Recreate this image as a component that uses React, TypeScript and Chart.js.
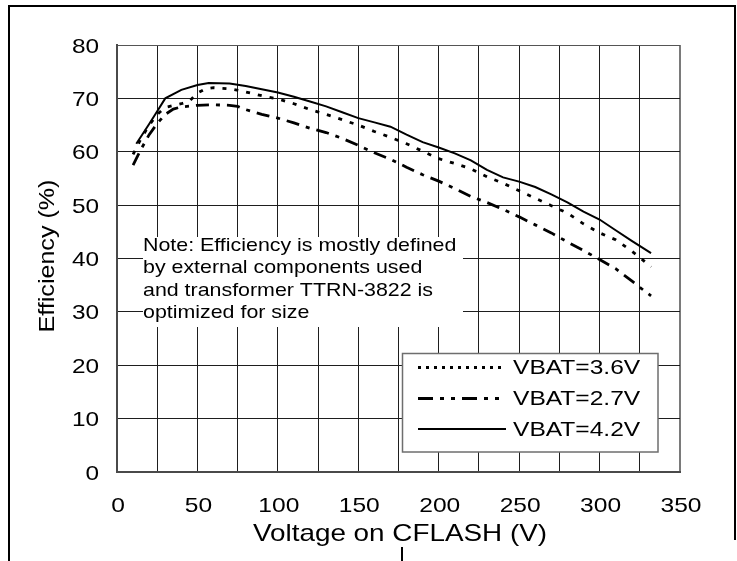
import { useEffect, useRef } from 'react';
import { Chart, registerables } from 'chart.js';

Chart.register(...registerables);

// ---- Data ----
const V_36 = [10, 15, 20, 25, 30, 40, 45, 50, 55, 60, 70, 80, 90, 100, 110, 120, 130, 140, 150, 160, 170, 180, 190, 200, 210, 220, 230, 240, 250, 260, 270, 280, 290, 300, 310, 320, 325, 332];
const EFF_36 = [59.5, 62.5, 65, 67, 68.3, 69, 69.5, 71, 71.8, 72, 71.8, 71.2, 70.5, 69.9, 69, 67.9, 67, 66, 65, 63.8, 62.7, 61.5, 60.1, 58.7, 57.8, 56.8, 55.3, 54.1, 52.7, 51.3, 49.9, 48.5, 46.5, 44.8, 43.5, 41.4, 40.2, 38.4];

const V_27 = [10, 15, 20, 25, 30, 35, 40, 50, 60, 70, 75, 80, 90, 100, 110, 120, 130, 140, 150, 160, 170, 180, 190, 200, 210, 220, 230, 240, 250, 260, 270, 280, 290, 300, 310, 320, 325, 332];
const EFF_27 = [57.5, 60.5, 63.2, 65.3, 67, 68, 68.4, 68.7, 68.8, 68.7, 68.5, 67.9, 67, 66.3, 65.4, 64.4, 63.6, 62.5, 61.2, 59.8, 58.6, 57.1, 55.7, 54.5, 53.1, 51.6, 50.5, 49.2, 47.8, 46.3, 44.8, 43.1, 41.5, 39.8, 38.1, 35.8, 34.6, 33];

const V_42 = [12, 20, 25, 30, 40, 50, 57, 70, 80, 90, 100, 110, 120, 130, 140, 150, 160, 170, 180, 190, 200, 210, 220, 230, 240, 250, 260, 270, 280, 290, 300, 310, 320, 332];
const EFF_42 = [61.5, 65.2, 67.6, 70, 71.6, 72.5, 72.9, 72.8, 72.3, 71.7, 71.1, 70.3, 69.4, 68.5, 67.4, 66.3, 65.5, 64.7, 63.2, 61.8, 60.8, 59.7, 58.4, 56.6, 55.2, 54.4, 53.4, 52, 50.5, 48.8, 47.3, 45.3, 43.3, 41];

const SERIES_LABELS = ['VBAT=3.6V', 'VBAT=2.7V', 'VBAT=4.2V'];
const X_MIN = 0, X_MAX = 350, X_GRID_STEP = 25, X_LABEL_STEP = 50;
const Y_MIN = 0, Y_MAX = 80, Y_STEP = 10;
const X_TITLE = 'Voltage on CFLASH (V)';
const Y_TITLE = 'Efficiency (%)';
const NOTE_LINES = [
  'Note: Efficiency is mostly defined',
  'by external components used',
  'and transformer TTRN-3822 is',
  'optimized for size',
];

const FONT = '"Liberation Sans", Arial, Helvetica, sans-serif';

function toPoints(xs: number[], ys: number[]) {
  return xs.map((x, i) => ({ x, y: ys[i] }));
}

function stretchText(
  ctx: CanvasRenderingContext2D,
  text: string,
  x: number,
  y: number,
  size: number,
  sx: number,
  align: CanvasTextAlign,
  rotate = 0
) {
  ctx.save();
  ctx.font = `${size}px ${FONT}`;
  ctx.fillStyle = '#000';
  ctx.textBaseline = 'alphabetic';
  ctx.textAlign = align;
  ctx.translate(x, y);
  if (rotate) ctx.rotate(rotate);
  ctx.scale(sx, 1);
  ctx.fillText(text, 0, 0);
  ctx.restore();
}

const decorPlugin = {
  id: 'decor',
  beforeDatasetsDraw(chart: any) {
    const ctx: CanvasRenderingContext2D = chart.ctx;
    // note box (white background hides grid)
    ctx.save();
    ctx.fillStyle = '#fff';
    ctx.fillRect(143, 237, 320, 90);
    ctx.restore();
    NOTE_LINES.forEach((line, i) => {
      stretchText(ctx, line, 143, 251 + i * 22.4, 18.6, 1.15, 'left');
    });
  },
  afterDatasetsDraw(chart: any) {
    const ctx: CanvasRenderingContext2D = chart.ctx;
    // legend box
    ctx.save();
    ctx.fillStyle = '#fff';
    ctx.fillRect(402, 353, 256, 99);
    ctx.strokeStyle = '#6e6e6e';
    ctx.lineWidth = 1.5;
    ctx.strokeRect(402.5, 353.5, 255.5, 98.5);
    ctx.restore();
    const baselines = [374, 405, 435.5];
    chart.data.datasets.forEach((ds: any, i: number) => {
      const ly = baselines[i] - 6.5;
      ctx.save();
      ctx.strokeStyle = '#000';
      ctx.lineWidth = ds.legendWidth;
      ctx.setLineDash(ds.legendDash || []);
      ctx.beginPath();
      ctx.moveTo(418, ly);
      ctx.lineTo(506, ly);
      ctx.stroke();
      ctx.restore();
      stretchText(ctx, ds.label, 513, baselines[i], 21, 1.17, 'left');
    });
  },
  afterDraw(chart: any) {
    const ctx: CanvasRenderingContext2D = chart.ctx;
    const xs = chart.scales.x;
    const ys = chart.scales.y;
    // y tick labels
    ys.ticks.forEach((t: any) => {
      const py = ys.getPixelForValue(t.value);
      stretchText(ctx, String(t.value), 99, py + 7.5, 21, 1.16, 'right');
    });
    // x tick labels
    xs.ticks.forEach((t: any) => {
      if (t.value % X_LABEL_STEP !== 0) return;
      const px = xs.getPixelForValue(t.value);
      stretchText(ctx, String(t.value), px + 1, 511.5, 21, 1.17, 'center');
    });
    // axis titles
    stretchText(ctx, X_TITLE, 400, 541, 24, 1.16, 'center');
    stretchText(ctx, Y_TITLE, 54, 256, 22, 1.14, 'center', -Math.PI / 2);
    // outer frame
    ctx.save();
    ctx.strokeStyle = '#000';
    ctx.lineWidth = 2;
    ctx.beginPath();
    ctx.moveTo(9, 561);
    ctx.lineTo(9, 6);
    ctx.lineTo(735, 6);
    ctx.lineTo(735, 540);
    ctx.moveTo(402, 547);
    ctx.lineTo(402, 561);
    ctx.stroke();
    ctx.restore();
  },
};

export default function App() {
  const canvasRef = useRef<HTMLCanvasElement | null>(null);

  useEffect(() => {
    if (!canvasRef.current) return;
    const chart = new Chart(canvasRef.current, {
      type: 'line',
      data: {
        datasets: [
          {
            label: SERIES_LABELS[0],
            data: toPoints(V_36, EFF_36),
            borderColor: '#000',
            borderWidth: 2.8,
            borderDash: [4, 8],
            legendDash: [3, 5],
            legendWidth: 3,
            pointRadius: 0,
            tension: 0,
          } as any,
          {
            label: SERIES_LABELS[1],
            data: toPoints(V_27, EFF_27),
            borderColor: '#000',
            borderWidth: 2.8,
            borderDash: [13, 7, 4, 7],
            legendDash: [15, 7, 4, 7, 4, 7],
            legendWidth: 3,
            pointRadius: 0,
            tension: 0,
          } as any,
          {
            label: SERIES_LABELS[2],
            data: toPoints(V_42, EFF_42),
            borderColor: '#000',
            borderWidth: 2,
            borderDash: [],
            legendDash: [],
            legendWidth: 2,
            pointRadius: 0,
            tension: 0,
          } as any,
        ],
      },
      options: {
        animation: false,
        responsive: true,
        maintainAspectRatio: false,
        devicePixelRatio: 1,
        layout: { padding: { left: 117, top: 45, right: 57, bottom: 89 } },
        plugins: {
          legend: { display: false },
          tooltip: { enabled: false },
          title: { display: false },
        },
        scales: {
          x: {
            type: 'linear',
            min: X_MIN,
            max: X_MAX,
            ticks: { stepSize: X_GRID_STEP, display: false },
            grid: {
              drawTicks: false,
              color: (c: any) => (c.tick && c.tick.value === X_MAX ? '#7a7a7a' : '#1e1e1e'),
              lineWidth: (c: any) => (c.tick && c.tick.value === X_MAX ? 2 : 1),
            },
            border: { display: true, color: '#4a4a4a', width: 2 },
          },
          y: {
            type: 'linear',
            min: Y_MIN,
            max: Y_MAX,
            ticks: { stepSize: Y_STEP, display: false },
            grid: {
              drawTicks: false,
              color: (c: any) => (c.tick && c.tick.value === Y_MAX ? '#555' : '#1e1e1e'),
              lineWidth: 1,
            },
            border: { display: true, color: '#4a4a4a', width: 2 },
          },
        },
      },
      plugins: [decorPlugin],
    });
    return () => chart.destroy();
  }, []);

  return (
    <div style={{ position: 'absolute', left: 0, top: 0, width: 737, height: 561, background: '#fff' }}>
      <canvas ref={canvasRef} />
    </div>
  );
}
